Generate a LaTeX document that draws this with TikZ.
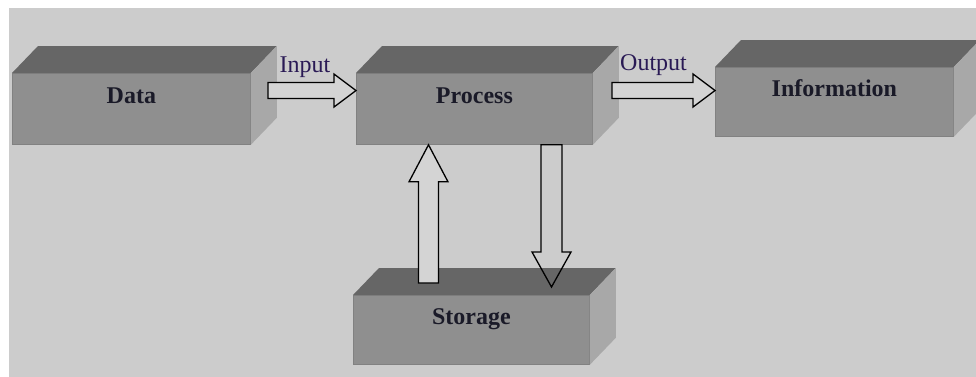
\documentclass[tikz,border=0pt]{standalone}
\usepackage{fontspec}
\setmainfont{Liberation Serif}
\usetikzlibrary{calc}
\definecolor{bg}{HTML}{CCCCCC}
\definecolor{frontc}{HTML}{8F8F8F}
\definecolor{topc}{HTML}{666666}
\definecolor{sidec}{HTML}{A8A8A8}
\definecolor{edgec}{HTML}{818181}
\definecolor{labc}{HTML}{1A1A28}
\definecolor{arrlab}{HTML}{2A1A55}
\definecolor{afill}{HTML}{D4D4D4}
\tikzset{
  front/.style={rectangle, fill=frontc, draw=edgec, line width=0.8pt, inner sep=0pt, anchor=north west},
  boxlabel/.style={anchor=base, inner sep=0pt, text=labc, font=\fontsize{24}{28}\selectfont\bfseries},
  arrlabel/.style={anchor=base, inner sep=0pt, text=arrlab, font=\fontsize{24}{28}\selectfont},
  blockarrow/.style={draw=black, line width=1.3pt, line join=miter, fill=afill},
  hollowarrow/.style={draw=black, line width=1.3pt, line join=miter},
}
\newcommand\cuboid[1]{%
  \fill[topc] (#1.north west) -- ++(26,-27) -- ([shift={(26,-27)}]#1.north east) -- (#1.north east) -- cycle;
  \fill[sidec] (#1.north east) -- ++(26,-27) -- ([shift={(26,-27)}]#1.south east) -- (#1.south east) -- cycle;
}
\newcommand\harrow[3]{% style, tail, tip (same y)
  \draw[#1] ([shift={(0,-8)}]#2) -- ([shift={(-22,-8)}]#3) -- ([shift={(-22,-16.5)}]#3) -- (#3)
    -- ([shift={(-22,16.5)}]#3) -- ([shift={(-22,8)}]#3) -- ([shift={(0,8)}]#2) -- cycle;
}
\begin{document}
\begin{tikzpicture}[x=1pt,y=-1pt]
\useasboundingbox (0,0) rectangle (976,376);
\fill[white] (0,0) rectangle (976,376);
\fill[bg] (9,8) rectangle (980,380);

% boxes
\node[front, minimum width=238pt, minimum height=71pt] (data) at (12,73) {};
\cuboid{data}
\node[front, minimum width=236pt, minimum height=71pt] (process) at (356,73) {};
\cuboid{process}
\node[front, minimum width=238pt, minimum height=69pt] (info) at (715,67) {};
\cuboid{info}
\node[front, minimum width=236pt, minimum height=69pt] (storage) at (353,295) {};
\cuboid{storage}

% labels in boxes
\node[boxlabel] (dataL) at ([yshift=-30pt]data.north) {Data};
\node[boxlabel] (processL) at ([yshift=-30pt]process.north) {Process};
\node[boxlabel] (infoL) at ([yshift=-29pt]info.north) {Information};
\node[boxlabel] (storageL) at ([yshift=-29pt]storage.north) {Storage};

% horizontal arrows
\coordinate (inTail) at (268,90.5);
\coordinate (inTip) at (process.west |- inTail);
\harrow{blockarrow}{inTail}{inTip}
\coordinate (outTail) at (612,90.5);
\coordinate (outTip) at (info.west |- outTail);
\harrow{blockarrow}{outTail}{outTip}

% up arrow (storage -> process)
\coordinate (upTail) at (428.5,283);
\coordinate (upTip) at (upTail |- process.south);
\draw[blockarrow] ([shift={(-10,0)}]upTail) -- ([shift={(-10,37)}]upTip) -- ([shift={(-19.5,37)}]upTip) -- (upTip)
  -- ([shift={(19.5,37)}]upTip) -- ([shift={(10,37)}]upTip) -- ([shift={(10,0)}]upTail) -- cycle;

% down arrow (process -> storage)
\coordinate (dnTip) at (551.5,287);
\coordinate (dnTail) at (dnTip |- process.south);
\draw[hollowarrow] ([shift={(-10.5,0)}]dnTail) -- ([shift={(-10.5,-35)}]dnTip) -- ([shift={(-19.5,-35)}]dnTip) -- (dnTip)
  -- ([shift={(19.5,-35)}]dnTip) -- ([shift={(10.5,-35)}]dnTip) -- ([shift={(10.5,0)}]dnTail) -- cycle;

% arrow labels
\node[arrlabel] (inL) at (305,72) {Input};
\node[arrlabel] (outL) at (653.5,70.5) {Output};
\end{tikzpicture}
\end{document}
